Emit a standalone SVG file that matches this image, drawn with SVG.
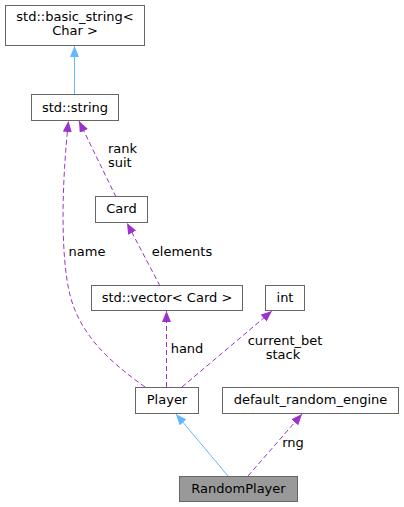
<svg xmlns="http://www.w3.org/2000/svg" width="404" height="507" viewBox="0 0 404 507">
<defs>
<style>
.node rect{fill:#ffffff;stroke:#666666;stroke-width:1}
.node.cur rect{fill:#999999}
text{font-family:"DejaVu Sans","Liberation Sans",sans-serif;font-size:13px;fill:#000000;text-anchor:middle}
text.l{text-anchor:start}
.inh{fill:none;stroke:#63b8ff;stroke-width:1}
.use{fill:none;stroke:#9a32cd;stroke-width:1;stroke-dasharray:5,3}
</style>
<marker id="ab" viewBox="0 0 11 9" refX="11" refY="4.5" markerWidth="11" markerHeight="9" markerUnits="userSpaceOnUse" orient="auto">
<path d="M0,0 L11,4.5 L0,9 z" fill="#63b8ff"/>
</marker>
<marker id="ap" viewBox="0 0 11 9" refX="11" refY="4.5" markerWidth="11" markerHeight="9" markerUnits="userSpaceOnUse" orient="auto">
<path d="M0,0 L11,4.5 L0,9 z" fill="#9a32cd"/>
</marker>
</defs>
<rect width="404" height="507" fill="#ffffff"/>
<g id="connectors">
<path class="inh" d="M74.5,94 L74.5,46" marker-end="url(#ab)"/>
<path class="use" d="M145,387 C110,362 80,335 70,295 C60,255 62,180 68.5,121" marker-end="url(#ap)"/>
<path class="use" d="M116,197 L79,121" marker-end="url(#ap)"/>
<path class="use" d="M160,286 L127,223" marker-end="url(#ap)"/>
<path class="use" d="M166.5,387 L166.5,311" marker-end="url(#ap)"/>
<path class="use" d="M182,387 L272,311" marker-end="url(#ap)"/>
<path class="inh" d="M228,476 L176,414" marker-end="url(#ab)"/>
<path class="use" d="M248,476 L302,414" marker-end="url(#ap)"/>
<text class="l" x="108" y="153">rank</text>
<text class="l" x="108" y="167">suit</text>
<text x="87" y="256">name</text>
<text x="182" y="256">elements</text>
<text x="187" y="353">hand</text>
<text x="285" y="345">current_bet</text>
<text x="283" y="359">stack</text>
<text x="293" y="447">rng</text>
</g>
<g id="basic_string" class="node"><rect x="5.5" y="5.5" width="139" height="40"/><text x="75" y="21">std::basic_string&lt;</text><text x="75" y="35">Char &gt;</text></g>
<g id="string" class="node"><rect x="31.5" y="94.5" width="87" height="26"/><text x="75" y="112">std::string</text></g>
<g id="card" class="node"><rect x="95.5" y="196.5" width="52" height="26"/><text x="121.5" y="213">Card</text></g>
<g id="vector" class="node"><rect x="91.5" y="285.5" width="151" height="25"/><text x="167" y="302">std::vector&lt; Card &gt;</text></g>
<g id="int" class="node"><rect x="265.5" y="285.5" width="39" height="25"/><text x="285" y="302">int</text></g>
<g id="player" class="node"><rect x="135.5" y="387.5" width="63" height="26"/><text x="167" y="404">Player</text></g>
<g id="rng_engine" class="node"><rect x="222.5" y="387.5" width="176" height="26"/><text x="310.5" y="404">default_random_engine</text></g>
<g id="randomplayer" class="node cur"><rect x="179.5" y="476.5" width="118" height="25"/><text x="238.5" y="493">RandomPlayer</text></g>
</svg>
